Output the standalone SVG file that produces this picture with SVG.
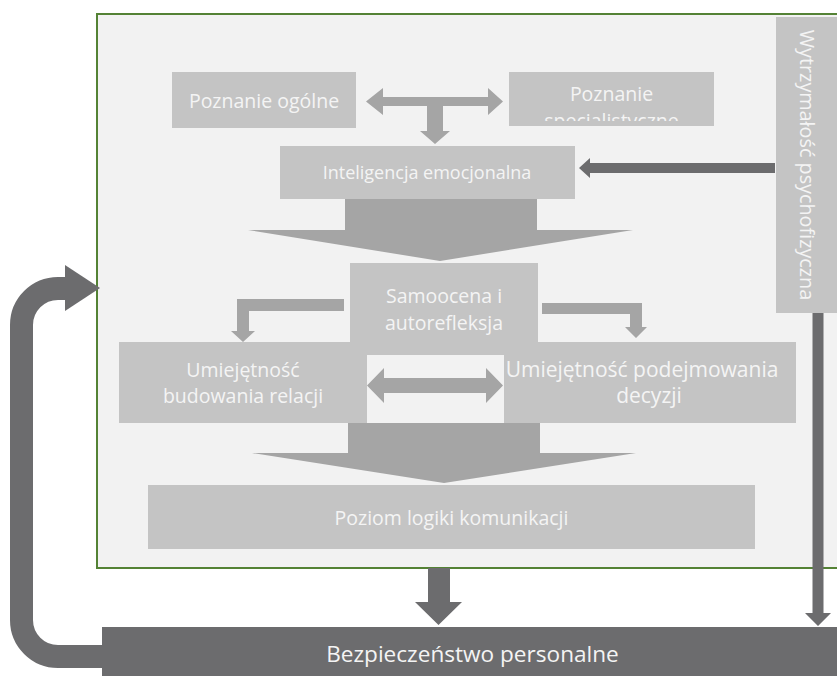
<svg xmlns="http://www.w3.org/2000/svg" width="837" height="676" viewBox="0 0 837 676">
  <defs>
    <style>
      .box { fill: #c4c4c4; }
      .lbl { font-family: "Open Sans", "Noto Sans", "DejaVu Sans", sans-serif; fill: #f4f4f4; text-anchor: middle; }
      .light { fill: #a5a5a5; }
      .dark { fill: #6c6c6e; }
      .band { fill: none; stroke: #6c6c6e; stroke-width: 23; }
    </style>
    <clipPath id="clip-spec">
      <rect x="509" y="72" width="205" height="49"/>
    </clipPath>
  </defs>

  <rect width="837" height="676" fill="#ffffff"/>

  <!-- outer frame -->
  <g id="frame">
    <rect x="97" y="14" width="760" height="554" fill="#f2f2f2" stroke="#548235" stroke-width="2"/>
  </g>

  <g id="poznanie-ogolne">
    <rect class="box" x="172" y="72" width="184" height="56"/>
    <text class="lbl" x="264" y="108" font-size="19.5">Poznanie ogólne</text>
  </g>

  <g id="poznanie-specjalistyczne">
    <rect class="box" x="509" y="72" width="205" height="54"/>
    <g clip-path="url(#clip-spec)">
      <text class="lbl" x="611.5" y="101" font-size="19.5">Poznanie</text>
      <text class="lbl" x="611.5" y="128" font-size="19.5">specjalistyczne</text>
    </g>
  </g>

  <g id="inteligencja">
    <rect class="box" x="280" y="146" width="295" height="53"/>
    <text class="lbl" x="427" y="179" font-size="18">Inteligencja emocjonalna</text>
  </g>

  <g id="samoocena">
    <rect class="box" x="350" y="263" width="188" height="92"/>
    <text class="lbl" x="444" y="303" font-size="19.5">Samoocena i</text>
    <text class="lbl" x="444" y="330" font-size="19.5">autorefleksja</text>
  </g>

  <g id="relacje">
    <rect class="box" x="119" y="342" width="248" height="81"/>
    <text class="lbl" x="243" y="377" font-size="19.5">Umiejętność</text>
    <text class="lbl" x="243" y="403" font-size="19.5">budowania relacji</text>
  </g>

  <g id="decyzje">
    <rect class="box" x="504" y="342" width="292" height="81"/>
    <text class="lbl" x="642" y="377" font-size="21">Umiejętność podejmowania</text>
    <text class="lbl" x="649" y="403" font-size="21">decyzji</text>
  </g>

  <g id="poziom-logiki">
    <rect class="box" x="148" y="485" width="607" height="64"/>
    <text class="lbl" x="451.5" y="525" font-size="19.5">Poziom logiki komunikacji</text>
  </g>

  <g id="wytrzymalosc">
    <rect class="box" x="776" y="17" width="64" height="296"/>
    <text class="lbl" transform="translate(800 165) rotate(90)" x="0" y="0" font-size="19.8">Wytrzymałość psychofizyczna</text>
  </g>

  <g id="bezpieczenstwo">
    <rect x="102" y="627" width="740" height="52" fill="#6c6c6e"/>
    <text class="lbl" x="472.5" y="662" font-size="22.6" fill="#ffffff">Bezpieczeństwo personalne</text>
  </g>

  <g id="connectors">
    <!-- knowledge: two-way arrow with branch down to emotional intelligence -->
    <path class="light" d="M366,101.5 L383,88 V97 H488 V88 L503,101.5 L488,115 V106 H443 V131 H450 L435,144 L420,131 H427 V106 H383 V115 Z"/>
    <!-- emotional intelligence to self-assessment -->
    <path class="light" d="M345,199 H537 V230 H633 L440,261 L248,230 H345 Z"/>
    <!-- self-assessment elbows -->
    <path class="light" d="M344,299 H237 V331 H231 L243,342 L255,331 H249 V311 H344 Z"/>
    <path class="light" d="M542,303 H642 V327 H647 L636,338 L625,327 H630 V314 H542 Z"/>
    <!-- two-way arrow between skills -->
    <path class="light" d="M367,385.5 L384,368 V378 H486 V368 L503,385.5 L486,403 V393 H384 V403 Z"/>
    <!-- skills to communication logic -->
    <path class="light" d="M348,423 H540 V453 H636 L444,483 L252,453 H348 Z"/>
    <!-- resilience to emotional intelligence -->
    <path class="dark" d="M775,163 H590 V158 L579,168 L590,178 V173 H775 Z"/>
    <!-- resilience down to personal safety -->
    <path class="dark" d="M812.5,313 V613 H805 L818,626 L831,613 H823.5 V313 Z"/>
    <!-- frame down to personal safety -->
    <path class="dark" d="M428,568 V602 H415 L438.5,625 L462,602 H450 V568 Z"/>
    <!-- feedback loop back into the frame -->
    <path class="band" d="M104,656.5 H58 A36.5 36.5 0 0 1 21.5,620 V325 A36.5 36.5 0 0 1 58,288.5 H67"/>
    <path class="dark" d="M65,265 L100,288 L65,311 Z"/>
  </g>
</svg>
